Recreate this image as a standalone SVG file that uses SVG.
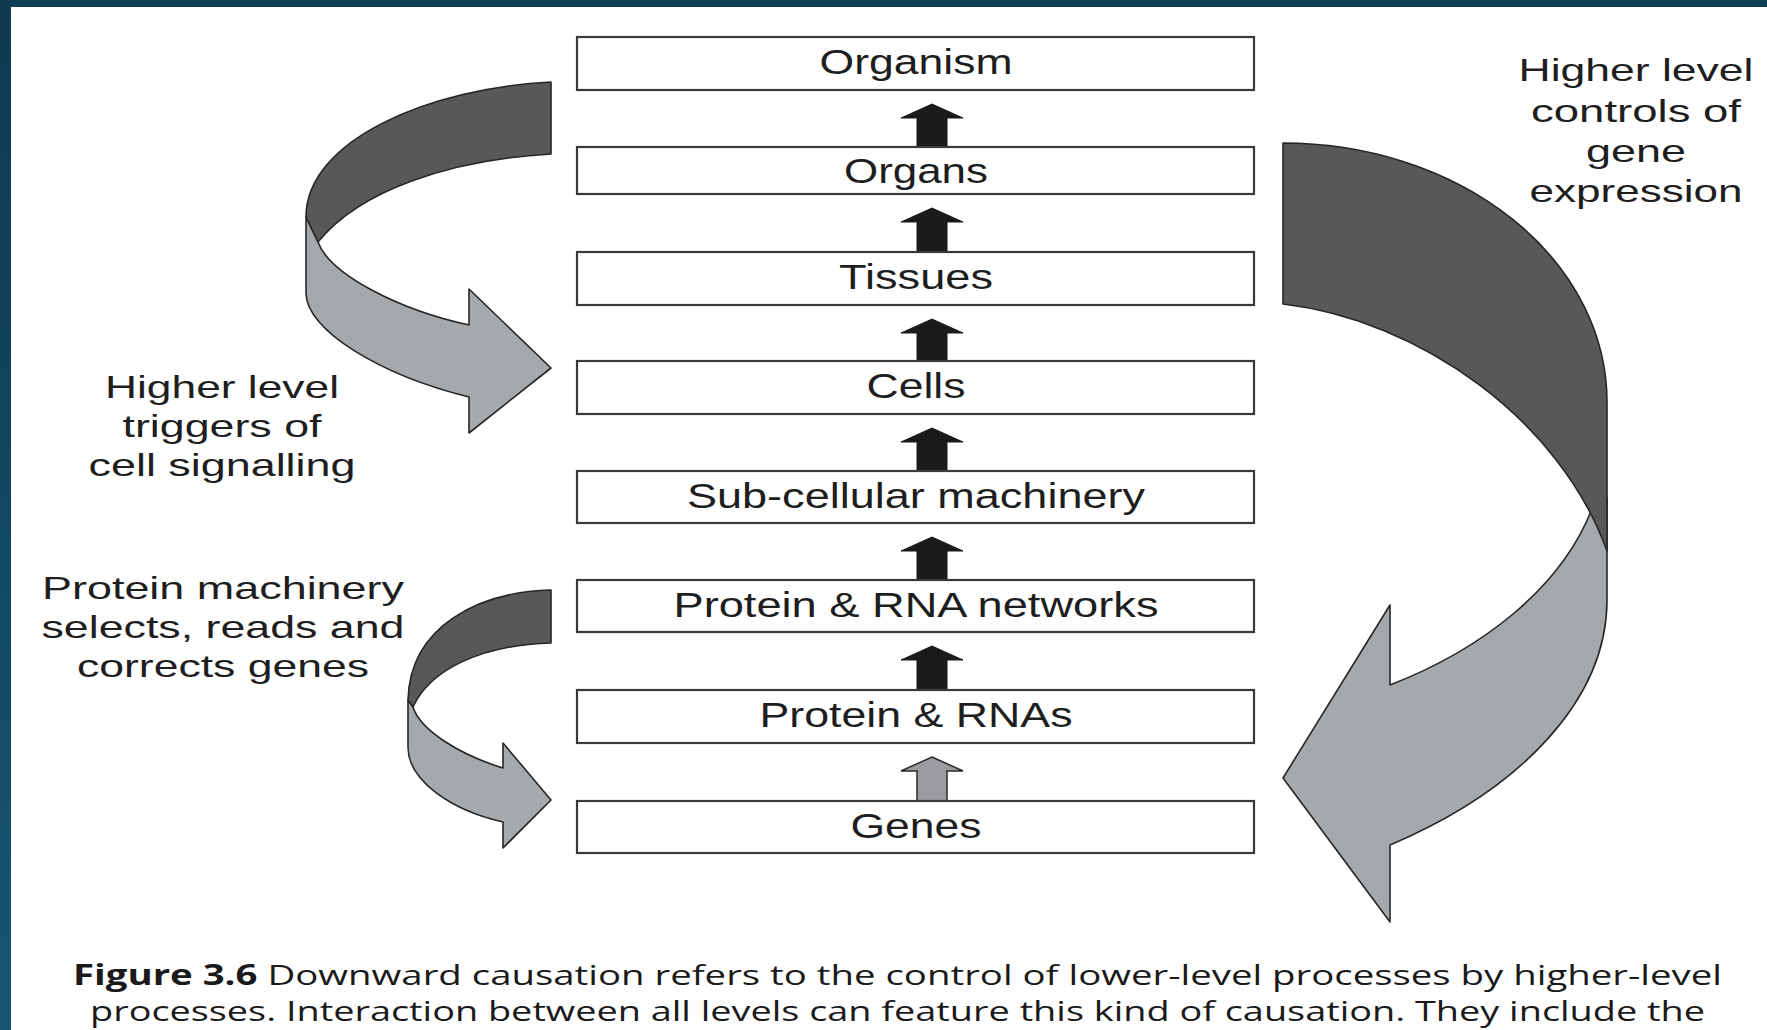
<svg xmlns="http://www.w3.org/2000/svg" width="1767" height="1030" viewBox="0 0 1767 1030">
<defs>
<linearGradient id="sideband" x1="0" y1="0" x2="0" y2="1">
<stop offset="0" stop-color="#0f3a50"/>
<stop offset="1" stop-color="#175572"/>
</linearGradient>
</defs>
<style>
.box{fill:#ffffff;stroke:#3a3a3a;stroke-width:2.2}
.lbl{font-family:"Liberation Sans",Arial,sans-serif;font-size:35px;fill:#1e1e1e;text-anchor:middle}
.side{font-family:"Liberation Sans",Arial,sans-serif;font-size:32px;fill:#1e1e1e;text-anchor:middle}
.cap{font-family:"Open Sans","Noto Sans",sans-serif;font-size:28px;fill:#1a1a1a}
.up{fill:#1a1a1a;stroke:#1a1a1a;stroke-width:1}
.upg{fill:#9a9c9f;stroke:#2a2a2a;stroke-width:1.5}
.dark{fill:#56585a;stroke:#262626;stroke-width:1.6;stroke-linejoin:round}
.light{fill:#a6a9ac;stroke:#262626;stroke-width:1.6;stroke-linejoin:round}
</style>
<rect x="0" y="0" width="1767" height="1030" fill="#ffffff"/>
<rect x="0" y="0" width="1767" height="7" fill="#0f3d55"/>
<rect x="0" y="0" width="11" height="1030" fill="url(#sideband)"/>

<g id="connectors">
<polygon class="up" points="932,104 963,118 947,118 947,147 917,147 917,118 901,118"/>
<polygon class="up" points="932,208 963,222 947,222 947,252 917,252 917,222 901,222"/>
<polygon class="up" points="932,319 963,333 947,333 947,361 917,361 917,333 901,333"/>
<polygon class="up" points="932,428 963,442 947,442 947,471 917,471 917,442 901,442"/>
<polygon class="up" points="932,537 963,551 947,551 947,580 917,580 917,551 901,551"/>
<polygon class="up" points="932,646 963,660 947,660 947,690 917,690 917,660 901,660"/>
<polygon class="upg" points="932,757 963,771 947,771 947,801 917,801 917,771 901,771"/>

<g id="arrow-cell-signalling">
<path class="light" d="M306,217 L306,293 C306,330 380,375 469,397 L469,433 L551,368 L469,289 L469,325 C400,310 330,275 318,242 Z"/>
<path class="dark" d="M551,82 C430,88 306,140 306,217 L318,242 C360,190 450,160 551,154 Z"/>
</g>
<g id="arrow-protein-machinery">
<path class="light" d="M408,700 L408,747 C408,780 450,810 503,822 L503,848 L551,800 L503,743 L503,768 C460,755 420,730 413,707 Z"/>
<path class="dark" d="M551,590 C480,592 410,625 408,700 L413,707 C430,670 480,645 551,643 Z"/>
</g>
<g id="arrow-gene-expression">
<path class="light" d="M1592,509 L1600,498 L1607,498 L1607,600 C1607,700 1520,790 1390,845 L1390,922 L1283,778 L1390,605 L1390,685 C1480,650 1560,590 1592,509 Z"/>
<path class="dark" d="M1283,143 A324 259 0 0 1 1607,402 L1607,551 C1560,420 1420,320 1283,304 Z"/>
</g>
</g>

<g id="node-organism"><rect class="box" x="577" y="37" width="677" height="53"/><text class="lbl" x="916" y="74" textLength="193" lengthAdjust="spacingAndGlyphs">Organism</text></g>
<g id="node-organs"><rect class="box" x="577" y="147" width="677" height="47"/><text class="lbl" x="916" y="183" textLength="144" lengthAdjust="spacingAndGlyphs">Organs</text></g>
<g id="node-tissues"><rect class="box" x="577" y="252" width="677" height="53"/><text class="lbl" x="916" y="289" textLength="154" lengthAdjust="spacingAndGlyphs">Tissues</text></g>
<g id="node-cells"><rect class="box" x="577" y="361" width="677" height="53"/><text class="lbl" x="916" y="398" textLength="99" lengthAdjust="spacingAndGlyphs">Cells</text></g>
<g id="node-subcellular"><rect class="box" x="577" y="471" width="677" height="52"/><text class="lbl" x="916" y="508" textLength="458" lengthAdjust="spacingAndGlyphs">Sub-cellular machinery</text></g>
<g id="node-protein-rna-networks"><rect class="box" x="577" y="580" width="677" height="52"/><text class="lbl" x="916" y="617" textLength="485" lengthAdjust="spacingAndGlyphs">Protein &amp; RNA networks</text></g>
<g id="node-protein-rnas"><rect class="box" x="577" y="690" width="677" height="53"/><text class="lbl" x="916" y="727" textLength="313" lengthAdjust="spacingAndGlyphs">Protein &amp; RNAs</text></g>
<g id="node-genes"><rect class="box" x="577" y="801" width="677" height="52"/><text class="lbl" x="916" y="838" textLength="131" lengthAdjust="spacingAndGlyphs">Genes</text></g>

<g id="label-cell-signalling">
<text class="side" x="222" y="398" textLength="234" lengthAdjust="spacingAndGlyphs">Higher level</text>
<text class="side" x="222" y="437" textLength="199" lengthAdjust="spacingAndGlyphs">triggers of</text>
<text class="side" x="222" y="476" textLength="267" lengthAdjust="spacingAndGlyphs">cell signalling</text>
</g>
<g id="label-protein-machinery">
<text class="side" x="223" y="599" textLength="362" lengthAdjust="spacingAndGlyphs">Protein machinery</text>
<text class="side" x="223" y="638" textLength="363" lengthAdjust="spacingAndGlyphs">selects, reads and</text>
<text class="side" x="223" y="677" textLength="292" lengthAdjust="spacingAndGlyphs">corrects genes</text>
</g>
<g id="label-gene-expression">
<text class="side" x="1636" y="81" textLength="235" lengthAdjust="spacingAndGlyphs">Higher level</text>
<text class="side" x="1636" y="122" textLength="210" lengthAdjust="spacingAndGlyphs">controls of</text>
<text class="side" x="1636" y="162" textLength="100" lengthAdjust="spacingAndGlyphs">gene</text>
<text class="side" x="1636" y="202" textLength="213" lengthAdjust="spacingAndGlyphs">expression</text>
</g>

<g id="caption">
<text class="cap" x="73" y="985" textLength="1649" lengthAdjust="spacingAndGlyphs"><tspan font-weight="bold">Figure 3.6</tspan>  Downward causation refers to the control of lower-level processes by higher-level</text>
<text class="cap" x="90" y="1021" textLength="1615" lengthAdjust="spacingAndGlyphs">processes. Interaction between all levels can feature this kind of causation. They include the</text>
</g>
</svg>
